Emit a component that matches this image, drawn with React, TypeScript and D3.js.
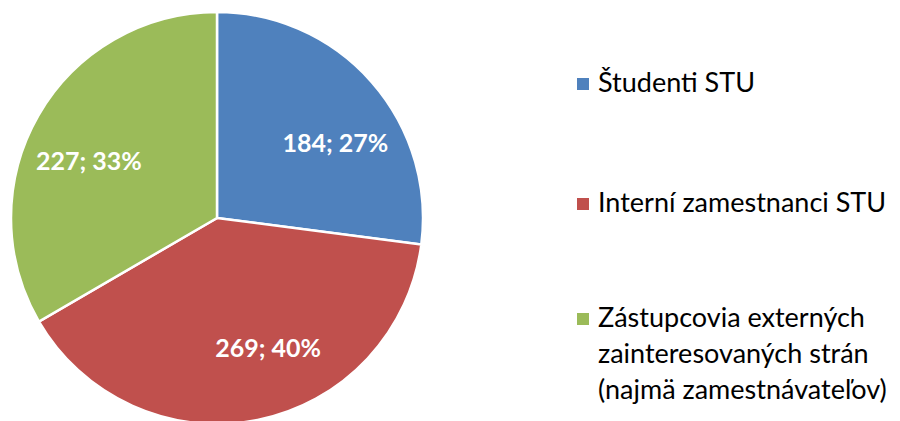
import React from "react";
import * as d3 from "d3";

const categories = ["Študenti STU", "Interní zamestnanci STU", "Zástupcovia externých zainteresovaných strán (najmä zamestnávateľov)"];
const legendLines = [["Študenti STU"], ["Interní zamestnanci STU"], ["Zástupcovia externých", "zainteresovaných strán", "(najmä zamestnávateľov)"]];
const values = [184, 269, 227];
const colors = ["#4F81BD", "#C0504D", "#9BBB59"];
const labelShiftDeg = [9, -10, -6];

const W = 900, H = 421;
const cx = 217, cy = 218, R = 206;

export default function App() {
  const total = d3.sum(values);
  const pie = d3.pie<number>().sort(null).value((d) => d);
  const arcs = pie(values);
  const arc = d3.arc<d3.PieArcDatum<number>>().innerRadius(0).outerRadius(R);
  const lr = R * 0.68;
  const legendY = [92, 212, 327];
  return (
    <svg width={W} height={H} style={{ position: "absolute", left: 0, top: 0 }}>
      <rect width={W} height={H} fill="#fff" />
      <g transform={`translate(${cx},${cy})`}>
        {arcs.map((a, i) => (
          <path key={i} d={arc(a) || ""} fill={colors[i]} stroke="#fff" strokeWidth={2.5} strokeLinejoin="miter" />
        ))}
        {arcs.map((a, i) => {
          const mid = (a.startAngle + a.endAngle) / 2 + (labelShiftDeg[i] * Math.PI) / 180;
          const x = Math.sin(mid) * lr;
          const y = -Math.cos(mid) * lr;
          return (
            <text key={"l" + i} x={x} y={y} dy="0.35em" textAnchor="middle" fill="#fff"
              fontFamily="Lato, 'Open Sans', sans-serif" fontWeight="bold" fontSize={25}>
              {`${values[i]}; ${Math.round((values[i] / total) * 100)}%`}
            </text>
          );
        })}
      </g>
      {legendLines.map((lines, i) => (
        <g key={"lg" + i}>
          <rect x={577} y={legendY[i] - 14} width={12} height={12} fill={colors[i]} />
          {lines.map((ln, j) => (
            <text key={j} x={598} y={legendY[i] + j * 36} fontFamily="Lato, 'Open Sans', sans-serif" fontSize={27} fill="#000">
              {ln}
            </text>
          ))}
        </g>
      ))}
    </svg>
  );
}
